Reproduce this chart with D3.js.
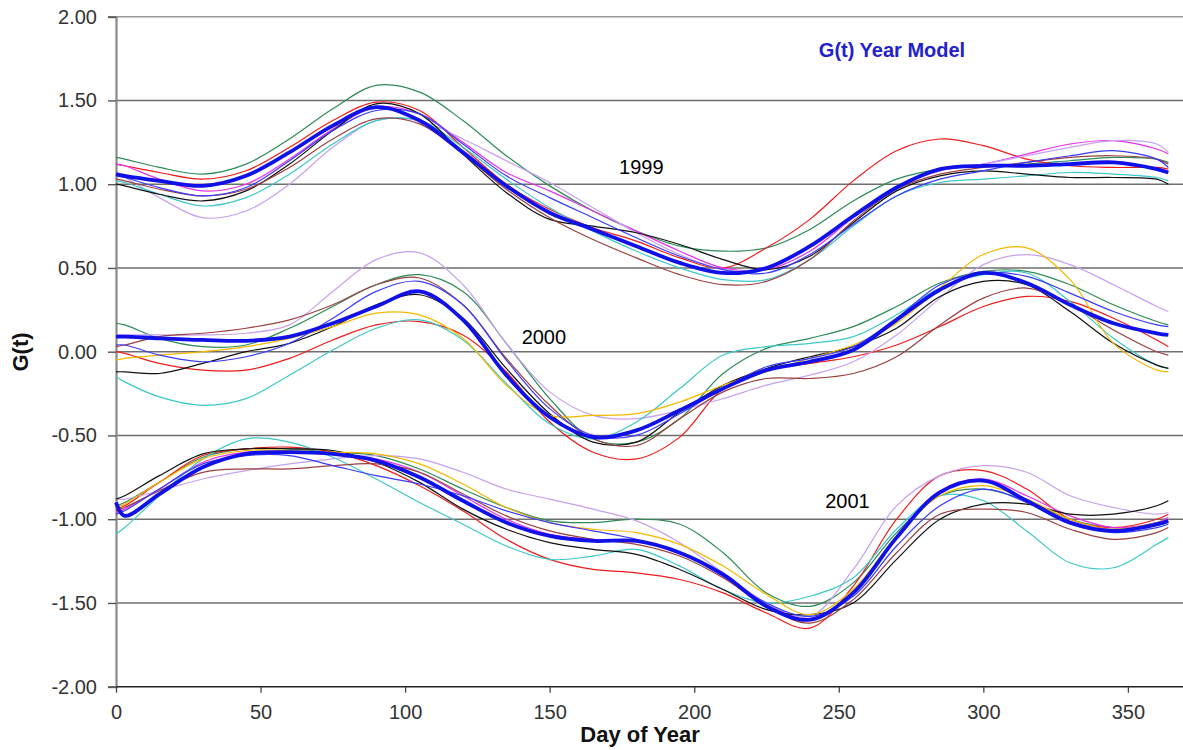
<!DOCTYPE html>
<html>
<head>
<meta charset="utf-8">
<script src="https://cdn.jsdelivr.net/npm/d3@7"></script>
<style>
  html, body { margin: 0; padding: 0; background: #fff; }
  svg { display: block; font-family: "Liberation Sans", Arial, sans-serif; }
</style>
</head>
<body>
<svg id="chart" width="1183" height="750"></svg>
<script>
// ---------------- DATA ----------------
const days = [0,3,15,30,45,60,75,90,105,120,135,150,165,180,195,210,225,240,255,270,285,300,315,330,345,360,364];
const xTicks = [0,50,100,150,200,250,300,350];
const yTicks = [-2,-1.5,-1,-0.5,0,0.5,1,1.5,2];
const yTickLabels = ["-2.00","-1.50","-1.00","-0.50","0.00","0.50","1.00","1.50","2.00"];
const yearLabels = ["1999","2000","2001"];
const yearLabelPos = [[181.7,1.10],[148,0.09],[253,-0.89]];

// 1999
const green99   = [1.16,1.15,1.10,1.06,1.12,1.27,1.45,1.59,1.55,1.38,1.17,0.99,0.84,0.72,0.63,0.60,0.62,0.73,0.90,1.03,1.09,1.11,1.12,1.14,1.16,1.15,1.13];
const red99     = [1.12,1.11,1.07,1.03,1.08,1.22,1.38,1.49,1.44,1.22,1.00,0.85,0.74,0.66,0.56,0.50,0.62,0.79,1.02,1.20,1.27,1.23,1.15,1.11,1.10,1.10,1.09];
const magenta99 = [1.12,1.11,1.03,0.96,1.00,1.15,1.33,1.46,1.42,1.25,1.07,0.96,0.84,0.72,0.60,0.50,0.49,0.60,0.80,0.98,1.08,1.12,1.18,1.24,1.26,1.21,1.18];
const lavender99= [1.06,1.04,0.92,0.80,0.84,1.00,1.22,1.38,1.38,1.27,1.14,1.01,0.86,0.71,0.58,0.49,0.50,0.62,0.80,0.98,1.08,1.12,1.17,1.22,1.26,1.24,1.19];
const cyan99    = [1.02,1.01,0.94,0.87,0.92,1.06,1.24,1.38,1.38,1.22,1.03,0.86,0.72,0.60,0.50,0.43,0.43,0.55,0.75,0.93,1.01,1.03,1.05,1.07,1.06,1.04,1.02];
const black99   = [1.00,0.99,0.94,0.90,0.96,1.12,1.32,1.48,1.42,1.18,0.95,0.79,0.75,0.71,0.64,0.55,0.49,0.57,0.77,0.96,1.05,1.08,1.06,1.04,1.04,1.03,1.00];
const brown99   = [1.03,1.02,0.97,0.93,0.97,1.10,1.27,1.39,1.36,1.18,0.97,0.80,0.67,0.56,0.46,0.40,0.42,0.55,0.78,0.97,1.06,1.10,1.13,1.16,1.17,1.15,1.12];
const thinBlue99= [1.05,1.04,0.98,0.93,0.98,1.14,1.32,1.44,1.42,1.24,1.05,0.92,0.80,0.68,0.57,0.49,0.47,0.58,0.76,0.93,1.03,1.08,1.13,1.17,1.20,1.15,1.10];
const model99   = [1.06,1.05,1.02,0.99,1.05,1.19,1.35,1.46,1.38,1.19,0.99,0.83,0.73,0.63,0.53,0.47,0.50,0.63,0.81,0.98,1.09,1.11,1.11,1.12,1.13,1.09,1.07];

// 2000
const green00   = [0.17,0.16,0.08,0.03,0.04,0.14,0.27,0.40,0.46,0.36,0.05,-0.28,-0.52,-0.54,-0.40,-0.13,0.02,0.08,0.15,0.27,0.41,0.48,0.48,0.40,0.28,0.18,0.16];
const red00     = [0.00,-0.01,-0.07,-0.11,-0.11,-0.04,0.07,0.16,0.18,0.10,-0.12,-0.42,-0.60,-0.64,-0.51,-0.22,-0.11,-0.07,-0.03,0.04,0.15,0.27,0.33,0.30,0.20,0.07,0.03];
const lavender00= [0.10,0.10,0.10,0.10,0.11,0.16,0.36,0.55,0.59,0.40,0.05,-0.24,-0.38,-0.40,-0.35,-0.28,-0.20,-0.14,-0.06,0.10,0.32,0.52,0.58,0.52,0.40,0.27,0.24];
const cyan00    = [-0.15,-0.18,-0.27,-0.32,-0.28,-0.14,0.01,0.14,0.19,0.07,-0.19,-0.43,-0.52,-0.42,-0.22,-0.02,0.03,0.05,0.09,0.22,0.38,0.46,0.47,0.30,0.08,-0.08,-0.10];
const black00   = [-0.12,-0.12,-0.13,-0.07,0.00,0.05,0.15,0.28,0.34,0.20,-0.10,-0.37,-0.54,-0.54,-0.36,-0.20,-0.10,-0.03,0.03,0.14,0.33,0.42,0.40,0.24,0.05,-0.08,-0.10];
const brown00   = [0.03,0.04,0.09,0.11,0.14,0.19,0.28,0.40,0.44,0.28,-0.04,-0.32,-0.52,-0.56,-0.40,-0.24,-0.16,-0.16,-0.13,-0.03,0.16,0.32,0.38,0.28,0.13,0.00,-0.02];
const orange00  = [-0.05,-0.04,-0.02,0.00,0.03,0.08,0.15,0.23,0.22,0.08,-0.20,-0.38,-0.38,-0.37,-0.30,-0.20,-0.12,-0.04,0.04,0.17,0.38,0.58,0.62,0.43,0.05,-0.11,-0.12];
const thinBlue00= [0.04,0.04,-0.02,-0.06,-0.03,0.05,0.20,0.36,0.42,0.28,-0.05,-0.34,-0.50,-0.50,-0.37,-0.22,-0.09,-0.04,0.03,0.20,0.40,0.47,0.45,0.35,0.24,0.16,0.15];
const model00   = [0.09,0.09,0.08,0.07,0.065,0.09,0.17,0.27,0.36,0.19,-0.14,-0.39,-0.51,-0.47,-0.35,-0.22,-0.11,-0.06,0.01,0.19,0.37,0.47,0.41,0.28,0.17,0.11,0.10];

// 2001
const green01   = [-0.92,-0.90,-0.78,-0.63,-0.58,-0.58,-0.60,-0.62,-0.70,-0.82,-0.93,-1.01,-1.02,-1.00,-1.03,-1.20,-1.44,-1.52,-1.38,-1.08,-0.86,-0.82,-0.89,-1.00,-1.05,-1.04,-1.02];
const red01     = [-0.94,-0.92,-0.78,-0.62,-0.58,-0.57,-0.60,-0.68,-0.80,-0.95,-1.12,-1.24,-1.30,-1.32,-1.36,-1.44,-1.56,-1.65,-1.40,-1.00,-0.74,-0.71,-0.82,-1.00,-1.05,-1.00,-0.97];
const magenta01 = [-0.96,-0.94,-0.82,-0.66,-0.60,-0.60,-0.61,-0.64,-0.72,-0.86,-1.00,-1.09,-1.12,-1.13,-1.20,-1.34,-1.50,-1.60,-1.44,-1.10,-0.83,-0.76,-0.86,-0.98,-1.05,-1.02,-0.99];
const lavender01= [-0.88,-0.88,-0.83,-0.76,-0.71,-0.67,-0.64,-0.62,-0.64,-0.72,-0.82,-0.88,-0.94,-1.01,-1.14,-1.32,-1.50,-1.58,-1.30,-0.92,-0.74,-0.68,-0.72,-0.86,-0.93,-0.97,-0.96];
const cyan01    = [-1.09,-1.05,-0.86,-0.64,-0.52,-0.54,-0.63,-0.76,-0.90,-1.03,-1.16,-1.24,-1.22,-1.18,-1.28,-1.42,-1.50,-1.46,-1.35,-1.06,-0.86,-0.89,-1.07,-1.26,-1.29,-1.15,-1.11];
const black01   = [-0.88,-0.86,-0.74,-0.61,-0.58,-0.58,-0.59,-0.66,-0.78,-0.94,-1.06,-1.14,-1.18,-1.21,-1.30,-1.42,-1.54,-1.57,-1.50,-1.24,-1.00,-0.91,-0.91,-0.97,-0.97,-0.92,-0.89];
const brown01   = [-0.95,-0.93,-0.83,-0.72,-0.70,-0.70,-0.68,-0.67,-0.72,-0.85,-0.98,-1.07,-1.12,-1.15,-1.22,-1.35,-1.52,-1.62,-1.48,-1.20,-0.97,-0.94,-0.96,-1.06,-1.12,-1.08,-1.05];
const orange01  = [-0.93,-0.91,-0.78,-0.64,-0.59,-0.59,-0.60,-0.61,-0.67,-0.79,-0.93,-1.02,-1.06,-1.08,-1.15,-1.28,-1.45,-1.57,-1.42,-1.10,-0.86,-0.80,-0.88,-1.00,-1.06,-1.02,-1.00];
const thinBlue01= [-0.97,-0.95,-0.82,-0.67,-0.62,-0.62,-0.68,-0.74,-0.79,-0.86,-0.95,-1.02,-1.07,-1.12,-1.20,-1.34,-1.50,-1.58,-1.46,-1.16,-0.92,-0.82,-0.90,-1.03,-1.08,-1.05,-1.03];
const model01   = [-0.90,-0.98,-0.85,-0.69,-0.61,-0.60,-0.61,-0.65,-0.75,-0.89,-1.02,-1.10,-1.13,-1.13,-1.20,-1.33,-1.52,-1.60,-1.44,-1.11,-0.84,-0.77,-0.89,-1.02,-1.07,-1.03,-1.01];

// ---------------- DRAW ----------------
const colors = {
  green: "#2e8b57", red: "#ee1c1c", magenta: "#e830e8", lavender: "#c8a0f0",
  cyan: "#3cc8c8", black: "#111111", brown: "#9a4040", orange: "#f5b800", thinBlue: "#3a3aff"
};
const thinSeries = [
  ["green",green99],["red",red99],["magenta",magenta99],["lavender",lavender99],["cyan",cyan99],["black",black99],["brown",brown99],["thinBlue",thinBlue99],
  ["green",green00],["red",red00],["lavender",lavender00],["cyan",cyan00],["black",black00],["brown",brown00],["orange",orange00],["thinBlue",thinBlue00],
  ["green",green01],["red",red01],["magenta",magenta01],["lavender",lavender01],["cyan",cyan01],["black",black01],["brown",brown01],["orange",orange01],["thinBlue",thinBlue01]
];
const models = [model99, model00, model01];

const svg = d3.select("#chart");
const x = d3.scaleLinear().domain([0, 370]).range([116, 1185.7]);
const y = d3.scaleLinear().domain([-2, 2]).range([686.7, 16.7]);

// gridlines
svg.append("g").selectAll("line").data(yTicks.filter(v => v > -2)).join("line")
  .attr("x1", 116).attr("x2", 1183)
  .attr("y1", d => y(d)).attr("y2", d => y(d))
  .attr("stroke", d => d === 2 ? "#9a9a9a" : "#6e6e6e").attr("stroke-width", 1.6);

// y axis
const yAxis = d3.axisLeft(y).tickValues(yTicks)
  .tickFormat(d => yTickLabels[yTicks.indexOf(d)]).tickSize(8).tickPadding(11);
const gy = svg.append("g").attr("transform", "translate(116,0)").call(yAxis);
gy.select(".domain").attr("stroke", "#8a8a8a").attr("stroke-width", 2.2);
gy.selectAll(".tick line").attr("stroke", "#555").attr("stroke-width", 1.4);
gy.selectAll("text").attr("font-size", 20).attr("fill", "#333").attr("font-family", "Liberation Sans, Arial, sans-serif");

// x axis
const xAxis = d3.axisBottom(x).tickValues(xTicks).tickSize(6).tickPadding(12);
const gx = svg.append("g").attr("transform", `translate(0,${y(-2)})`).call(xAxis);
gx.select(".domain").attr("stroke", "#222").attr("stroke-width", 1.6).attr("d", `M116,0H1183`);
gx.selectAll(".tick line").attr("stroke", "#444").attr("stroke-width", 1.3);
gx.selectAll("text").attr("font-size", 20).attr("fill", "#333").attr("font-family", "Liberation Sans, Arial, sans-serif");

// lines
const line = d3.line().x((d, i) => x(days[i])).y(d => y(d)).curve(d3.curveCatmullRom.alpha(0.5));
svg.append("g").selectAll("path").data(thinSeries).join("path")
  .attr("d", d => line(d[1]))
  .attr("fill", "none").attr("stroke", d => colors[d[0]]).attr("stroke-width", 1.2);
svg.append("g").selectAll("path").data(models).join("path")
  .attr("d", d => line(d))
  .attr("fill", "none").attr("stroke", "#1010e8").attr("stroke-width", 3.8).attr("stroke-linejoin", "round");

// year labels
svg.append("g").selectAll("text").data(yearLabels).join("text")
  .attr("x", (d, i) => x(yearLabelPos[i][0])).attr("y", (d, i) => y(yearLabelPos[i][1]))
  .attr("text-anchor", "middle").attr("dominant-baseline", "central")
  .attr("font-size", 20).attr("fill", "#000").text(d => d);

// model title
svg.append("text").attr("x", 892).attr("y", 50).attr("text-anchor", "middle").attr("dominant-baseline", "central")
  .attr("font-size", 20).attr("font-weight", "bold").attr("fill", "#2222cc").text("G(t) Year Model");

// axis titles
svg.append("text").attr("x", 640).attr("y", 742).attr("text-anchor", "middle")
  .attr("font-size", 22).attr("font-weight", "bold").attr("fill", "#111").text("Day of Year");
svg.append("text").attr("transform", "translate(28,352) rotate(-90)").attr("text-anchor", "middle")
  .attr("font-size", 22).attr("font-weight", "bold").attr("fill", "#111").text("G(t)");
</script>
</body>
</html>
